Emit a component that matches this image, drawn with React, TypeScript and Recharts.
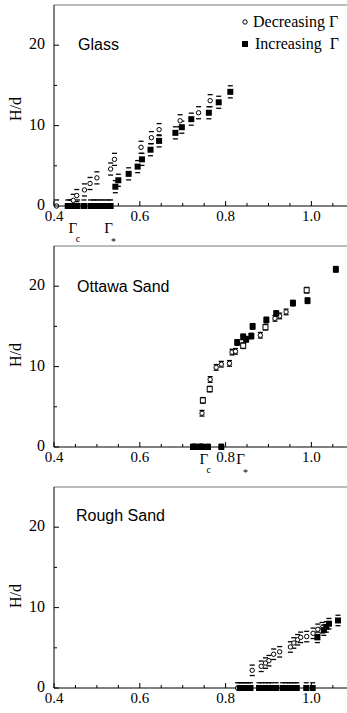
import React from 'react';
import { ScatterChart, Scatter, XAxis, YAxis, ReferenceLine } from 'recharts';

// H/d versus Γ for three granular materials
const glassDecreasing = [
  [0.406, 0], [0.445, 0.7], [0.453, 1.3], [0.471, 2.0], [0.484, 2.8], [0.5, 3.5],
  [0.532, 4.6], [0.541, 5.8], [0.603, 7.3], [0.627, 8.5], [0.645, 9.5], [0.694, 10.6],
  [0.737, 11.6], [0.764, 13.1],
];
const glassIncreasing = [
  [0.432, 0], [0.437, 0], [0.442, 0], [0.455, 0], [0.47, 0], [0.485, 0], [0.492, 0],
  [0.498, 0], [0.505, 0], [0.512, 0], [0.519, 0], [0.526, 0], [0.532, 0],
  [0.543, 2.4], [0.55, 3.2], [0.574, 4.0], [0.595, 4.9], [0.605, 5.8], [0.625, 7.0],
  [0.645, 8.1], [0.683, 9.1], [0.698, 9.8], [0.72, 10.8], [0.761, 11.6], [0.784, 12.9],
  [0.811, 14.2],
];

const ottawaDecreasing = [
  [0.745, 4.2], [0.764, 8.4], [0.778, 9.9], [0.79, 10.3], [0.809, 10.4], [0.815, 11.8],
  [0.823, 11.9], [0.881, 13.9], [0.915, 16.0], [0.926, 16.3], [0.941, 16.8],
];
const ottawaDecreasingSq = [
  [0.747, 5.8], [0.763, 7.2], [0.841, 12.6], [0.893, 14.9], [0.989, 19.5],
];
const ottawaIncreasing = [
  [0.724, 0], [0.729, 0], [0.741, 0], [0.745, 0], [0.759, 0], [0.79, 0],
  [0.827, 13.0], [0.841, 13.7], [0.848, 13.4], [0.86, 13.8], [0.863, 15.0], [0.895, 15.8],
  [0.918, 16.6], [0.957, 17.9], [0.991, 18.2], [1.057, 22.1],
];

const roughDecreasing = [
  [0.828, 0], [0.862, 2.2], [0.883, 2.7], [0.893, 3.1], [0.901, 3.4], [0.912, 4.2],
  [0.926, 4.5], [0.951, 5.1], [0.959, 5.6], [0.968, 6.0], [0.975, 6.3], [0.989, 6.4],
  [1.004, 6.8], [1.015, 7.3], [1.025, 7.5],
];
const roughIncreasing = [
  [0.833, 0], [0.838, 0], [0.843, 0], [0.848, 0], [0.853, 0], [0.858, 0], [0.878, 0],
  [0.885, 0], [0.893, 0], [0.9, 0], [0.907, 0], [0.918, 0], [0.933, 0], [0.94, 0],
  [0.947, 0], [0.953, 0], [0.96, 0], [0.966, 0], [0.988, 0], [1.003, 0],
  [1.014, 6.3], [1.029, 7.2], [1.035, 7.6], [1.041, 8.0], [1.062, 8.4],
];

// error half-widths (H/d units)
const glassErr = 0.75;
const ottawaErr = 0.35;
const roughErr = 0.65;

const xMajorTicks = [0.4, 0.6, 0.8, 1.0];
const xMinorTicks = [0.45, 0.5, 0.55, 0.65, 0.7, 0.75, 0.85, 0.9, 0.95, 1.05];
const yMajorTicks = [0, 10, 20];
const yMinorTicks = [5, 15];

// Γc and Γ* markers under the axis
const glassMarks = [{ at: 0.444, sub: 'c' }, { at: 0.527, sub: '*' }];
const ottawaMarks = [{ at: 0.749, sub: 'c' }, { at: 0.835, sub: '*' }];

const SERIF = '"Liberation Serif", "Times New Roman", serif';
const SANS = '"Liberation Sans", Arial, sans-serif';

const toPts = (rows: number[][]) => rows.map(([x, y]) => ({ x, y }));
const toCaps = (rows: number[][], err: number) =>
  rows.flatMap(([x, y]) => {
    const out = [{ x, y: y + err }];
    if (y - err >= 0) out.push({ x, y: y - err });
    return out;
  });

const OpenCircle = (p: any) => (
  <circle cx={p.cx} cy={p.cy} r={2.2} fill="#fff" stroke="#000" strokeWidth={1} />
);
const OpenSquare = (p: any) => (
  <rect x={p.cx - 2.5} y={p.cy - 2.5} width={5} height={5} fill="#fff" stroke="#000" strokeWidth={1} />
);
const FilledSquare = (p: any) => (
  <rect x={p.cx - 3} y={p.cy - 3} width={6} height={6} fill="#000" />
);
const Cap = (p: any) => (
  <line x1={p.cx - 2.5} x2={p.cx + 2.5} y1={p.cy} y2={p.cy} stroke="#000" strokeWidth={1.3} />
);

const XTick = ({ x, y, payload, marks }: any) => {
  const v = payload.value;
  const mark = marks.find((m: any) => m.at === v);
  if (mark) {
    const subY = mark.sub === '*' ? 12 : 9;
    return (
      <g fontFamily={SERIF}>
        <text x={x} y={y + mark.dy} textAnchor="middle" fontSize={15}>Γ</text>
        <text x={x + 5} y={y + mark.dy + subY} textAnchor="middle" fontSize={10}>{mark.sub}</text>
      </g>
    );
  }
  const major = xMajorTicks.includes(v);
  return (
    <g>
      <line x1={x} x2={x} y1={y} y2={y - (major ? 5 : 3)} stroke="#000" />
      {major && (
        <text x={x} y={y + 15} textAnchor="middle" fontFamily={SERIF} fontSize={15}>
          {v.toFixed(1)}
        </text>
      )}
    </g>
  );
};

const YTick = ({ x, y, payload }: any) => {
  const v = payload.value;
  const major = yMajorTicks.includes(v);
  return (
    <g>
      <line x1={x} x2={x + (major ? 5 : 3)} y1={y} y2={y} stroke="#000" />
      {major && (
        <text x={x - 9} y={y + 4} textAnchor="end" fontFamily={SERIF} fontSize={16}>
          {v}
        </text>
      )}
    </g>
  );
};

interface PanelProps {
  top: number;
  height: number;
  marginTop: number;
  axisHeight: number;
  dec: number[][];
  decSq?: number[][];
  inc: number[][];
  err: number;
  marks: { at: number; sub: string }[];
  markDy: number;
}

const Panel: React.FC<PanelProps> = ({ top, height, marginTop, axisHeight, dec, decSq = [], inc, err, marks, markDy }) => {
  const m = marks.map((k) => ({ ...k, dy: markDy }));
  const ticks = [...xMajorTicks, ...xMinorTicks, ...m.map((k) => k.at)].sort((a, b) => a - b);
  const caps = [...toCaps(dec, err), ...toCaps(decSq, err), ...toCaps(inc, err)];
  return (
    <div style={{ position: 'absolute', left: 0, top }}>
      <ScatterChart width={347} height={height} margin={{ top: marginTop, right: 0, bottom: 0, left: 0 }}>
        <XAxis
          type="number"
          dataKey="x"
          domain={[0.4, 1.083]}
          ticks={ticks}
          interval={0}
          height={axisHeight}
          tickSize={0}
          tickMargin={0}
          tickLine={false}
          axisLine={{ stroke: '#000', strokeWidth: 1 }}
          tick={(props: any) => <XTick {...props} marks={m} />}
        />
        <YAxis
          type="number"
          dataKey="y"
          domain={[0, 25]}
          ticks={[...yMajorTicks, ...yMinorTicks].sort((a, b) => a - b)}
          interval={0}
          width={54}
          tickSize={0}
          tickMargin={0}
          tickLine={false}
          axisLine={{ stroke: '#000', strokeWidth: 1 }}
          tick={(props: any) => <YTick {...props} />}
        />
        <ReferenceLine y={25} stroke="#777" strokeWidth={1} />
        <Scatter data={caps} shape={Cap} isAnimationActive={false} />
        <Scatter data={toPts(dec)} shape={OpenCircle} isAnimationActive={false} />
        <Scatter data={toPts(decSq)} shape={OpenSquare} isAnimationActive={false} />
        <Scatter data={toPts(inc)} shape={FilledSquare} isAnimationActive={false} />
      </ScatterChart>
    </div>
  );
};

const App: React.FC = () => {
  return (
    <div style={{ position: 'absolute', left: 0, top: 0, width: 347, height: 713, background: '#fff' }}>
      <Panel top={0} height={250} marginTop={5} axisHeight={44} dec={glassDecreasing} inc={glassIncreasing}
        err={glassErr} marks={glassMarks} markDy={27} />
      <Panel top={240} height={241} marginTop={6} axisHeight={34} dec={ottawaDecreasing} decSq={ottawaDecreasingSq}
        inc={ottawaIncreasing} err={ottawaErr} marks={ottawaMarks} markDy={17} />
      <Panel top={481} height={232} marginTop={6} axisHeight={25} dec={roughDecreasing} inc={roughIncreasing}
        err={roughErr} marks={[]} markDy={0} />
      <svg width={347} height={713} style={{ position: 'absolute', left: 0, top: 0, pointerEvents: 'none' }}>
        <g fontFamily={SANS} fontSize={16}>
          <text x={78} y={50}>Glass</text>
          <text x={77} y={292}>Ottawa Sand</text>
          <text x={76} y={521}>Rough Sand</text>
        </g>
        <g fontFamily={SERIF} fontSize={16} textAnchor="middle">
          <text transform="translate(21,109) rotate(-90)">H/d</text>
          <text transform="translate(21,355) rotate(-90)">H/d</text>
          <text transform="translate(21,596) rotate(-90)">H/d</text>
        </g>
        <g fontFamily={SERIF} fontSize={16}>
          <circle cx={245} cy={22} r={2.2} fill="#fff" stroke="#000" />
          <text x={253} y={27}>Decreasing Γ</text>
          <rect x={242} y={41} width={6} height={6} fill="#000" />
          <text x={255} y={49} style={{ whiteSpace: 'pre' }}>{'Increasing  Γ'}</text>
        </g>
      </svg>
    </div>
  );
};

export default App;
